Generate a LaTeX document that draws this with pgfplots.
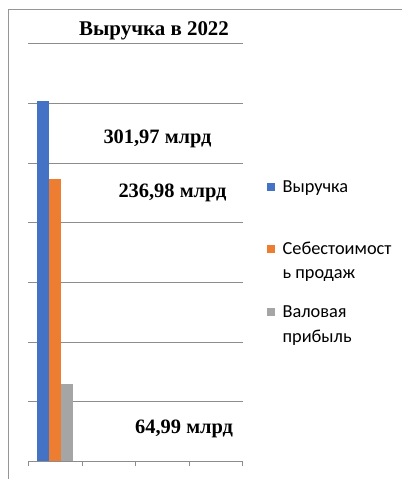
\documentclass[border=0pt]{standalone}
\usepackage{fontspec}
\setmainfont{Liberation Serif}
\newfontfamily\calibri{Carlito}
\usepackage{pgfplots}
\pgfplotsset{compat=1.18}
\definecolor{cBlue}{HTML}{4472C4}
\definecolor{cOrange}{HTML}{ED7D31}
\definecolor{cGray}{HTML}{A5A5A5}
\definecolor{gridc}{RGB}{140,140,140}
\definecolor{framec}{RGB}{150,150,150}
\newcommand{\lrow}[2]{\raisebox{0pt}[#1][0pt]{#2}}
\begin{document}
\begin{tikzpicture}[x=1bp,y=1bp]
\useasboundingbox (0,0) rectangle (402,479);
\draw[framec, line width=0.8bp] (8,0) -- (8,469.7) -- (402,469.7);
\begin{axis}[
  at={(28.3bp,17.7bp)}, anchor=south west,
  scale only axis, width=214.4bp, height=417.6bp,
  xmin=0, xmax=4, ymin=0, ymax=350,
  xtick={0,1,2,3,4}, xticklabels={},
  ytick={50,100,...,350}, yticklabels={},
  ymajorgrids, major grid style={gridc, line width=0.75bp},
  axis x line*=bottom, axis y line*=left,
  x axis line style={gridc, line width=0.75bp, -},
  y axis line style={draw=none},
  xtick style={gridc, line width=0.75bp}, ytick style={draw=none},
  tick align=outside, major tick length=5bp,
  ybar, bar width=12.2bp,
  legend image code/.code={\path[#1] (0bp,2bp) rectangle (8.3bp,10bp);},
  legend style={at={(axis description cs:1.112,0.6815)}, anchor=north west,
    draw=none, fill=none, inner sep=0pt, outer sep=0pt,
    row sep=0pt, column sep=7.6bp,
    font=\calibri\fontsize{18.4}{23}\selectfont,
    nodes={inner sep=0pt, outer sep=0pt},
    cells={anchor=base west}},
]
\addplot[fill=cBlue, draw=none, bar shift=-12.2bp] coordinates {(0.5,301.97)};
\addlegendentry{\lrow{16bp}{Выручка}}
\addplot[fill=cOrange, draw=none, bar shift=0bp] coordinates {(0.5,236.98)};
\addlegendentry{\lrow{60.6bp}{Себестоимост}}
\addlegendimage{empty legend}
\addlegendentry{\lrow{22.7bp}{ь продаж}}
\addplot[fill=cGray, draw=none, bar shift=12.2bp] coordinates {(0.5,64.99)};
\addlegendentry{\lrow{37.5bp}{Валовая}}
\addlegendimage{empty legend}
\addlegendentry{\lrow{22.7bp}{прибыль}}
\end{axis}
\node[anchor=base west, inner sep=0pt, font=\bfseries\fontsize{21}{25}\selectfont] at (79,443) {Выручка в 2022};
\node[anchor=base west, inner sep=0pt, font=\bfseries\fontsize{20.5}{24}\selectfont] at (103.3,335.7) {301,97 млрд};
\node[anchor=base west, inner sep=0pt, font=\bfseries\fontsize{20.5}{24}\selectfont] at (118.3,281.7) {236,98 млрд};
\node[anchor=base west, inner sep=0pt, font=\bfseries\fontsize{20.5}{24}\selectfont] at (135,45) {64,99 млрд};
\end{tikzpicture}
\end{document}
